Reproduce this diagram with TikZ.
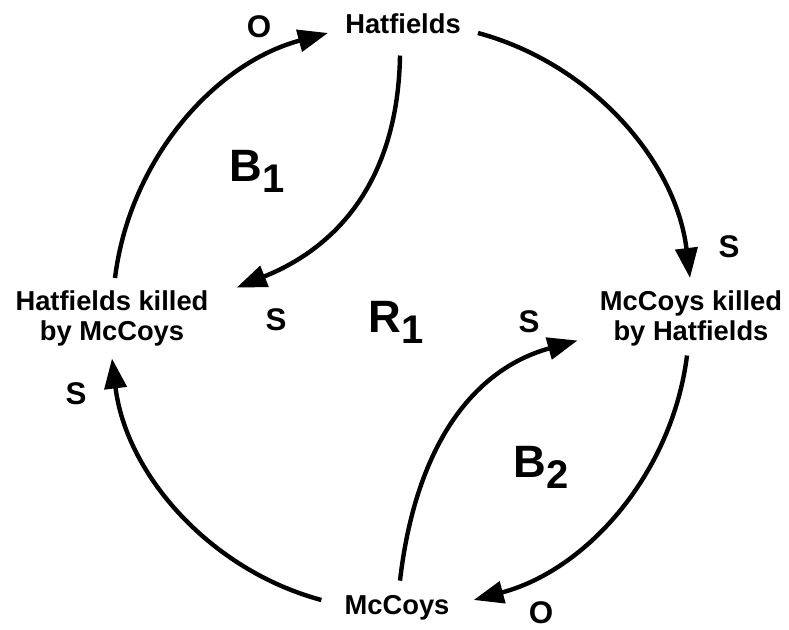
\documentclass[tikz,border=0pt]{standalone}
\usepackage{fontspec}
\setmainfont{Liberation Sans}
\usetikzlibrary{arrows.meta}
\begin{document}
\begin{tikzpicture}[x=0.75pt,y=0.75pt,
  lbl/.style={font=\fontsize{20.5}{22.5}\selectfont\bfseries, inner sep=0pt, align=center},
  pol/.style={font=\fontsize{23.5}{26}\selectfont\bfseries, inner sep=0pt},
  loopname/.style={font=\fontsize{34}{36}\selectfont\bfseries, inner sep=0pt, anchor=base west},
  link/.style={line width=3.3pt, -{Triangle[length=22.5pt,width=16.5pt]}},
  outer/.style={link, bend left=34, looseness=0.93},
]
\useasboundingbox (0,0) rectangle (789,630);

% variables
\node[lbl, anchor=base]  (h)  at (403,596.5) {Hatfields};
\node[lbl, anchor=north] (hk) at (112,339.5) {Hatfields killed\\by McCoys};
\node[lbl, anchor=north] (mk) at (691,339.5) {McCoys killed\\by Hatfields};
\node[lbl, anchor=base]  (m)  at (397,15) {McCoys};

% connector ends
\coordinate (p1) at ([shift={(3,12.5)}]hk.north);
\coordinate (t1) at ([shift={(-17,0.5)}]h.base west);
\coordinate (p2) at ([shift={(17,0.5)}]h.base east);
\coordinate (t2) at ([shift={(-1,12.5)}]mk.north);
\coordinate (p3) at ([shift={(-4,-9)}]mk.south);
\coordinate (t3) at ([shift={(24,15)}]m.base east);
\coordinate (p4) at ([shift={(-23,15)}]m.base west);
\coordinate (t4) at ([shift={(0,-12)}]hk.south);
\coordinate (q1) at ([shift={(-3,-21.5)}]h.south);
\coordinate (u1) at ([shift={(28,31)}]hk.east);
\coordinate (q2) at ([shift={(3,15)}]m.north);
\coordinate (u2) at ([shift={(-22,-22)}]mk.west);

% outer loop
\draw[outer] (p1) to (t1);
\draw[outer] (p2) to (t2);
\draw[outer] (p3) to (t3);
\draw[outer] (p4) to (t4);

% inner links
\draw[link] (q1) .. controls +(-2,-120) and +(105,42) .. (u1);
\draw[link] (q2) .. controls +(15,130) and +(-108,-30) .. (u2);

% polarities
\node[pol] (o1) at (259,603) {O};
\node[pol] (s1) at (729,383) {S};
\node[pol] (s2) at (276,310) {S};
\node[pol] (s3) at (529,308) {S};
\node[pol] (s4) at (76,236) {S};
\node[pol] (o2) at (541,17) {O};

% loop names
\node[loopname] (b1) at (229,448) {B\raisebox{-8pt}{\fontsize{30}{32}\selectfont 1}};
\node[loopname] (r1) at (368,297) {R\raisebox{-8pt}{\fontsize{30}{32}\selectfont 1}};
\node[loopname] (b2) at (513,152) {B\raisebox{-8pt}{\fontsize{30}{32}\selectfont 2}};
\end{tikzpicture}
\end{document}
